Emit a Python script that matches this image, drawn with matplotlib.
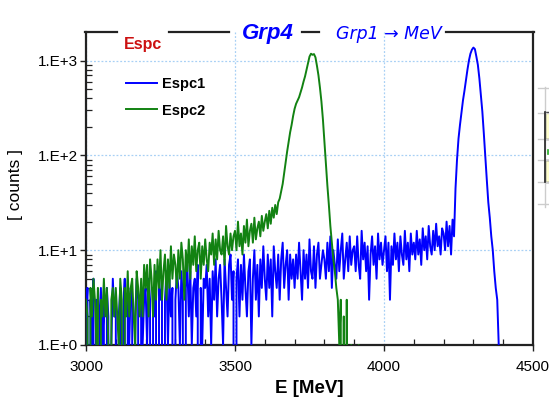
import numpy as np
import matplotlib
matplotlib.use('Agg')
import matplotlib.pyplot as plt
from matplotlib.lines import Line2D
from matplotlib.patches import Rectangle
from matplotlib.ticker import FixedLocator, MultipleLocator, FuncFormatter, NullFormatter

plt.rcParams['font.family'] = ['Liberation Sans', 'DejaVu Sans']

# ---------------- data ----------------
bin_width = 5          # MeV per bin
start_energy = 3000    # MeV of first bin

espc1_counts = [
    # 3000-3095
    2, 4, 0, 3, 1, 5, 0, 3, 0, 2, 4, 1, 3, 0, 4, 2, 0, 1, 5, 2,
    # 3100-3195
    3, 0, 2, 4, 0, 2, 5, 0, 3, 1, 4, 3, 0, 2, 5, 3, 0, 4, 1, 3,
    # 3200-3295
    4, 1, 5, 3, 0, 4, 2, 6, 0, 4, 3, 5, 0, 3, 6, 1, 5, 2, 4, 0,
    # 3300-3395
    3, 6, 4, 1, 6, 3, 0, 4, 7, 2, 6, 1, 4, 5, 2, 7, 0, 4, 1, 5,
    # 3400-3495
    4, 7, 2, 5, 1, 6, 3, 8, 2, 5, 7, 3, 1, 8, 4, 2, 7, 9, 3, 6,
    # 3500-3595
    0, 5, 8, 2, 7, 3, 9, 4, 2, 6, 8, 1, 5, 10, 3, 7, 2, 8, 4, 11,
    # 3600-3695
    5, 3, 9, 4, 8, 2, 11, 6, 4, 9, 3, 8, 12, 4, 7, 10, 3, 9, 5, 8,
    # 3700-3795
    4, 9, 5, 12, 6, 3, 10, 5, 9, 4, 13, 6, 5, 11, 4, 9, 12, 5, 7, 10,
    # 3800-3895
    8, 5, 12, 6, 14, 4, 10, 7, 5, 13, 6, 10, 15, 5, 8, 12, 6, 14, 7, 10,
    # 3900-3995
    11, 6, 14, 7, 5, 16, 8, 12, 6, 11, 3, 9, 14, 7, 11, 5, 15, 8, 12, 7,
    # 4000-4095
    10, 14, 6, 12, 3, 11, 7, 15, 8, 12, 6, 14, 9, 7, 16, 8, 12, 6, 15, 9,
    # 4100-4195
    12, 8, 16, 9, 13, 7, 17, 10, 14, 8, 18, 11, 9, 16, 10, 19, 11, 14, 9, 17,
    # 4200-4295
    15, 10, 20, 11, 18, 9, 21, 14, 45, 90, 150, 210, 280, 380, 480, 620, 800, 1000, 1180, 1300,
    # 4300-4395
    1370, 1320, 1100, 900, 650, 430, 290, 170, 95, 55, 32, 22, 14, 10, 6, 4, 3, 1, 0, 0,
]

espc2_counts = [
    # 3000-3095
    3, 2, 0, 4, 2, 5, 3, 1, 4, 0, 3, 2, 5, 2, 4, 1, 0, 3, 4, 2,
    # 3100-3195
    4, 2, 1, 5, 3, 0, 4, 2, 6, 2, 4, 5, 2, 1, 6, 4, 2, 5, 2, 7,
    # 3200-3295
    4, 7, 2, 8, 5, 2, 7, 3, 8, 4, 10, 3, 6, 9, 3, 8, 4, 11, 5, 9,
    # 3300-3395
    7, 4, 10, 5, 12, 8, 3, 10, 6, 13, 5, 11, 7, 14, 6, 10, 12, 5, 11, 7,
    # 3400-3495
    13, 8, 6, 12, 9, 15, 7, 13, 8, 16, 10, 9, 14, 7, 18, 11, 9, 15, 10, 14,
    # 3500-3595
    16, 10, 20, 11, 15, 9, 18, 12, 21, 11, 16, 19, 12, 22, 13, 17, 20, 14, 23, 16,
    # 3600-3695
    20, 24, 17, 26, 19, 28, 22, 30, 24, 32, 35, 42, 50, 65, 85, 110, 140, 175, 210, 260,
    # 3700-3795
    310, 350, 380, 410, 460, 520, 600, 680, 800, 950, 1100, 1180, 1150, 1170, 1080, 880, 700, 520, 370, 240,
    # 3800-3895
    140, 80, 48, 30, 18, 12, 8, 6, 4, 3, 1, 3, 0, 2, 0, 3, 0, 0, 1, 0,
    # 3900-3920
    0, 0, 0, 1, 0,
]

series_labels = ['Espc1', 'Espc2']
series_colors = ['#0000ff', '#128212']
x_ticks = [3000, 3500, 4000, 4500]
y_ticks = [1, 10, 100, 1000]
y_tick_labels = ['1.E+0', '1.E+1', '1.E+2', '1.E+3']

e1 = start_energy + bin_width * np.arange(len(espc1_counts))
e2 = start_energy + bin_width * np.arange(len(espc2_counts))

# ---------------- figure ----------------
W, H = 549, 404
fig = plt.figure(figsize=(W / 100, H / 100), dpi=100)
fig.patch.set_facecolor('white')

L, R, T, B = 86, 533, 32, 345
ax = fig.add_axes([L / W, 1 - B / H, (R - L) / W, (B - T) / H])

ax.plot(e1, espc1_counts, color=series_colors[0], lw=1.4, label=series_labels[0], zorder=3)
ax.plot(e2, espc2_counts, color=series_colors[1], lw=1.4, label=series_labels[1], zorder=4)

ax.set_yscale('log', nonpositive='clip')
ax.set_xlim(3000, 4500)
ax.set_ylim(1, 2000)

ax.xaxis.set_major_locator(FixedLocator(x_ticks))
ax.xaxis.set_minor_locator(MultipleLocator(100))
ax.yaxis.set_major_locator(FixedLocator(y_ticks))
ax.yaxis.set_major_formatter(FuncFormatter(
    lambda v, p: y_tick_labels[y_ticks.index(int(round(v)))] if int(round(v)) in y_ticks else ''))
minor_y = [m * 10 ** d for d in range(0, 4) for m in range(2, 10) if m * 10 ** d < 2000]
ax.yaxis.set_minor_locator(FixedLocator(minor_y))
ax.yaxis.set_minor_formatter(NullFormatter())

ax.tick_params(axis='both', which='major', direction='out', length=4, width=1.0,
               labelsize=11, colors='#222222', labelcolor='black')
ax.tick_params(axis='x', which='major', pad=7)
ax.tick_params(axis='y', which='major', pad=2)
ax.tick_params(axis='both', which='minor', direction='in', length=4, width=0.9, colors='#222222')

ax.grid(True, which='major', color='#a8d0f5', linestyle=(0, (1.5, 1.5)), linewidth=0.9, zorder=0)
ax.set_axisbelow(True)

for s in ['left', 'bottom', 'right']:
    ax.spines[s].set_color('#222222')
    ax.spines[s].set_linewidth(1.6)
ax.spines['top'].set_visible(False)

ax.set_xlabel('E [MeV]', fontsize=13.5, fontweight='bold', labelpad=4)
ax.set_ylabel('[ counts ]', fontsize=12.5)
ax.yaxis.set_label_coords((23 - L) / (R - L), (B - 184) / (B - T))

# top frame segments with gaps for the title texts
def fx(px):
    return px / W

def fy(py):
    return 1 - py / H

for x0, x1 in [(L - 0.8, 117), (169, 229), (302, 319), (446, R + 0.8)]:
    fig.add_artist(Line2D([fx(x0), fx(x1)], [fy(T), fy(T)], color='#222222', lw=1.6))

fig.text(fx(143), fy(44), 'Espc', color='#cc1111', fontsize=11.5, fontweight='bold',
         ha='center', va='center')
fig.text(fx(268), fy(34), 'Grp4', color='#0000ff', fontsize=16, fontweight='bold',
         fontstyle='italic', ha='center', va='center')
fig.text(fx(389), fy(34), 'Grp1 \u2192 MeV', color='#0000ff', fontsize=12.5,
         fontstyle='italic', ha='center', va='center', family=['DejaVu Sans'])

leg = ax.legend(loc='upper left', bbox_to_anchor=(fx(113), fy(64)), bbox_transform=fig.transFigure,
                frameon=False, handlelength=2.1, handletextpad=0.35, labelspacing=0.85,
                prop={'weight': 'bold', 'size': 10.5})

# clipped widget at the right edge
fig.add_artist(Line2D([fx(545), fx(545)], [fy(87), fy(207)], color='#cccccc', lw=1.0))
for yy in [88, 113, 139, 160, 182, 204]:
    fig.add_artist(Line2D([fx(538), fx(549)], [fy(yy), fy(yy)], color='#cccccc', lw=1.0))
for y0, y1 in [(112, 139), (160, 182)]:
    fig.add_artist(Rectangle((fx(545), fy(y1)), fx(10), (y1 - y0) / H, facecolor='#ffffcc',
                             edgecolor='#333333', lw=1.0))
fig.add_artist(Line2D([fx(545), fx(545)], [fy(112), fy(182)], color='#222222', lw=1.2))
fig.add_artist(Line2D([fx(547.5), fx(547.5)], [fy(150), fy(154)], color='#22aa22', lw=1.2))

fig.savefig('out.png', dpi=100)
